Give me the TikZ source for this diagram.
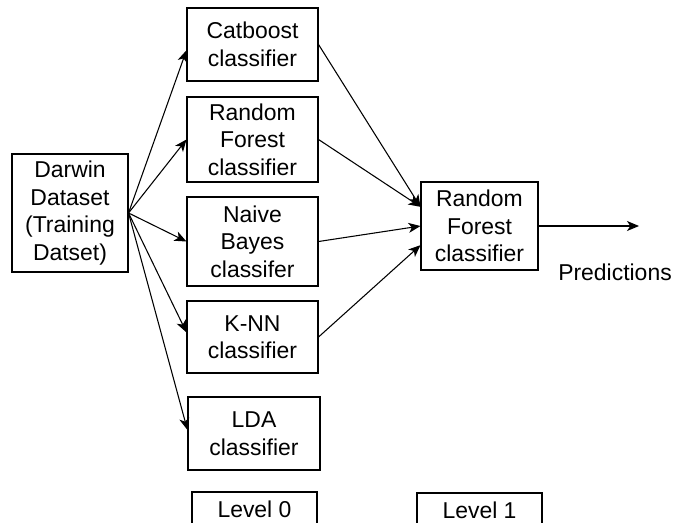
\documentclass[tikz,border=0pt]{standalone}
\usepackage{fontspec}
\setmainfont{Liberation Sans}
\usetikzlibrary{positioning, arrows.meta}

\begin{document}
\begin{tikzpicture}[x=0.75pt, y=-0.75pt,
    font=\fontsize{17.2}{20.6}\selectfont,
    box/.style={draw, line width=0.8pt, inner sep=0pt, align=center},
    arr/.style={-{Stealth[length=9pt, width=7.5pt, inset=2.5pt]}, line width=0.8pt}]

\useasboundingbox (0,0) rectangle (673,522);

% training data
\node[box, minimum width=87pt, minimum height=88.5pt] (data) at (70,213)
  {Darwin\\Dataset\\(Training\\Datset)};

% level 0 classifiers
\node[box, minimum width=98.25pt, minimum height=54.75pt] (cat) at (252.5,44.5)
  {Catboost\\classifier};
\node[box, minimum width=98.25pt, minimum height=63.75pt] (rf0) at (252.5,139.5)
  {Random\\Forest\\classifier};
\node[box, minimum width=98.25pt, minimum height=66.75pt] (nb) at (252.5,241.5)
  {Naive\\Bayes\\classifer};
\node[box, minimum width=98.25pt, minimum height=54pt] (knn) at (252.5,337)
  {K-NN\\classifier};
\node[box, minimum width=99pt, minimum height=54.75pt] (lda) at (254,433.5)
  {LDA\\classifier};

% level 1 classifier
\node[box, minimum width=87.75pt, minimum height=66pt] (rf1) at (479.5,226)
  {Random\\Forest\\classifier};
\coordinate (out) at (639,226);
\node (pred) at (615,272) {Predictions};

% level labels (cut by the page edge)
\node[box, minimum width=93.75pt, minimum height=25.5pt] (lvl0) at (254.5,509) {Level 0};
\node[box, minimum width=93.75pt, minimum height=25.5pt] (lvl1) at (479.5,510) {Level 1};

\draw[arr] (data.east) -- (cat.185);
\draw[arr] (data.east) -- (rf0.west);
\draw[arr] (data.east) -- (nb.west);
\draw[arr] (data.east) -- (knn.176);
\draw[arr] (data.east) -- (lda.177);

\draw[arr] (cat.east) -- (rf1.162);
\draw[arr] (rf0.east) -- (rf1.162);
\draw[arr] (nb.east) -- (rf1.west);
\draw[arr] (knn.east) -- (rf1.198);

\draw[arr] (rf1.east) -- (out);
\end{tikzpicture}
\end{document}
